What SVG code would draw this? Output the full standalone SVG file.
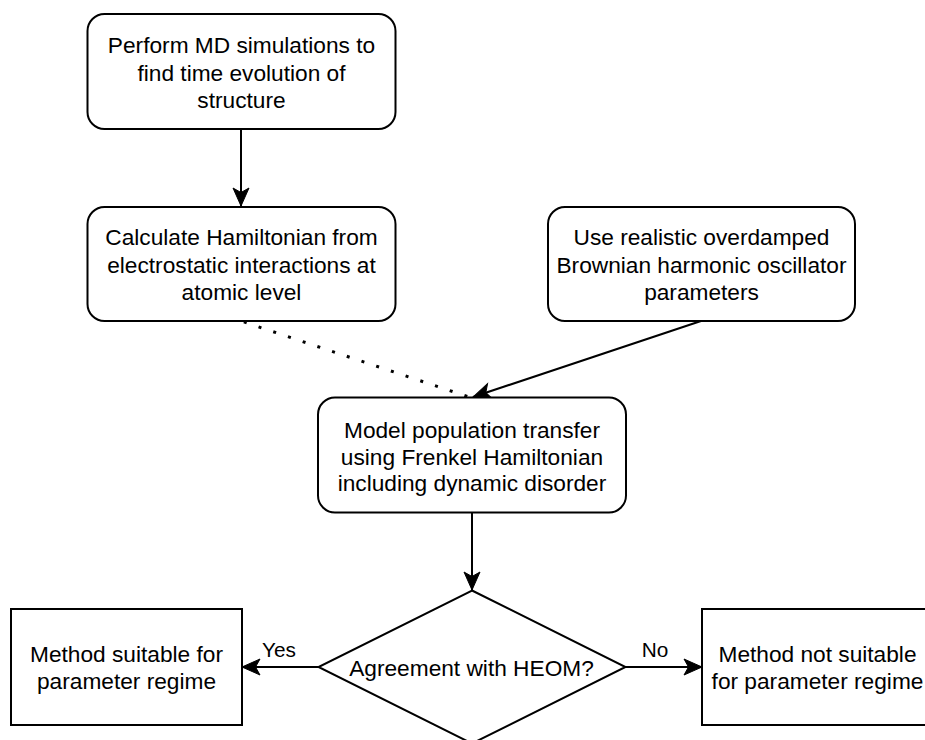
<svg xmlns="http://www.w3.org/2000/svg" width="925" height="740" viewBox="0 0 925 740">
<defs>
<style>
.box{fill:#fff;stroke:#000;stroke-width:2}
.t{font-family:"Liberation Sans",Arial,sans-serif;font-size:22.7px;fill:#000;text-anchor:middle}
.lbl{font-family:"Liberation Sans",Arial,sans-serif;font-size:20.8px;fill:#000;text-anchor:middle}
.edge{fill:none;stroke:#000;stroke-width:2}
.dot{fill:none;stroke:#000;stroke-width:3;stroke-dasharray:3 12.5}
</style>
<marker id="arr" viewBox="-20 -10 21 20" refX="0" refY="0" markerWidth="21" markerHeight="20" markerUnits="userSpaceOnUse" orient="auto">
<path d="M0,0 L-18,-8 L-13.5,0 L-18,8 Z" fill="#000" stroke="#000" stroke-width="1"/>
</marker>
</defs>
<rect width="925" height="740" fill="#fff"/>
<g id="connectors">
<line class="edge" x1="241" y1="129" x2="241" y2="206" marker-end="url(#arr)"/>
<line class="dot" x1="241" y1="321" x2="472" y2="398" stroke-dashoffset="12.5"/>
<line class="edge" x1="701" y1="321" x2="473" y2="397" marker-end="url(#arr)"/>
<line class="edge" x1="472" y1="513" x2="472" y2="590" marker-end="url(#arr)"/>
<line class="edge" x1="318" y1="667" x2="242" y2="667" marker-end="url(#arr)"/>
<line class="edge" x1="625" y1="667" x2="702" y2="667" marker-end="url(#arr)"/>
<text class="lbl" x="279" y="657">Yes</text>
<text class="lbl" x="655" y="657">No</text>
</g>
<g id="md">
<rect class="box" x="87.5" y="14" width="308" height="115" rx="17"/>
<text class="t" x="241.5" y="53">Perform MD simulations to</text>
<text class="t" x="241.5" y="80.5">find time evolution of</text>
<text class="t" x="241.5" y="107.5">structure</text>
</g>
<g id="hamiltonian">
<rect class="box" x="87.5" y="207" width="308" height="114" rx="17"/>
<text class="t" x="241.5" y="245">Calculate Hamiltonian from</text>
<text class="t" x="241.5" y="272.5">electrostatic interactions at</text>
<text class="t" x="241.5" y="300">atomic level</text>
</g>
<g id="brownian">
<rect class="box" x="548" y="207" width="307" height="114" rx="17"/>
<text class="t" x="701.5" y="245">Use realistic overdamped</text>
<text class="t" x="701.5" y="272.5">Brownian harmonic oscillator</text>
<text class="t" x="701.5" y="300">parameters</text>
</g>
<g id="model">
<rect class="box" x="318" y="397.5" width="308" height="115" rx="17"/>
<text class="t" x="472" y="438">Model population transfer</text>
<text class="t" x="472" y="464.5">using Frenkel Hamiltonian</text>
<text class="t" x="472" y="491">including dynamic disorder</text>
</g>
<g id="decision">
<polygon class="box" points="472,590.5 625.5,667 472,743.5 318.5,667"/>
<text class="t" x="471.5" y="676">Agreement with HEOM?</text>
</g>
<g id="suitable">
<rect class="box" x="11" y="609" width="231" height="116"/>
<text class="t" x="126.5" y="662">Method suitable for</text>
<text class="t" x="126.5" y="688.5">parameter regime</text>
</g>
<g id="notsuitable">
<rect class="box" x="702" y="609" width="231" height="116"/>
<text class="t" x="817.5" y="662">Method not suitable</text>
<text class="t" x="817.5" y="688.5">for parameter regime</text>
</g>
</svg>
